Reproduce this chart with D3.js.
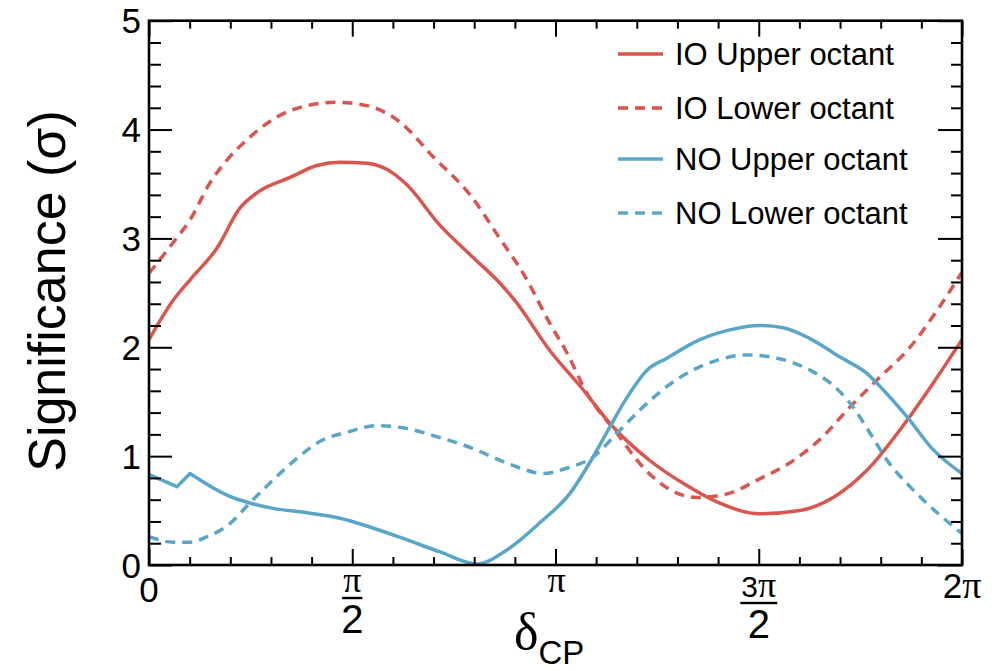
<!DOCTYPE html>
<html>
<head>
<meta charset="utf-8">
<script src="https://cdn.jsdelivr.net/npm/d3@7"></script>
<style>
  html, body { margin: 0; padding: 0; background: #fff; }
  svg { display: block; }
</style>
</head>
<body>
<svg id="chart" width="1000" height="671"></svg>
<script>
// ---- Data (x in units of pi, y = significance in sigma) ----
const ioUpperX = [0, 0.059, 0.101, 0.167, 0.224, 0.266, 0.347, 0.413, 0.470, 0.536, 0.600, 0.635, 0.716, 0.790, 0.863, 0.900, 0.986, 1.068, 1.134, 1.232, 1.314, 1.397, 1.503, 1.601, 1.683, 1.766, 1.865, 1.929, 2.0];
const ioUpperY = [2.07, 2.43, 2.62, 2.91, 3.28, 3.42, 3.56, 3.67, 3.70, 3.69, 3.60, 3.49, 3.12, 2.85, 2.59, 2.43, 1.97, 1.61, 1.30, 0.96, 0.75, 0.58, 0.47, 0.50, 0.62, 0.87, 1.33, 1.67, 2.07];

const ioLowerX = [0, 0.059, 0.101, 0.150, 0.192, 0.248, 0.322, 0.389, 0.462, 0.536, 0.617, 0.699, 0.790, 0.863, 0.925, 0.986, 1.028, 1.077, 1.151, 1.215, 1.299, 1.348, 1.429, 1.496, 1.577, 1.658, 1.724, 1.791, 1.872, 1.939, 2.0];
const ioLowerY = [2.68, 2.96, 3.17, 3.51, 3.72, 3.93, 4.13, 4.22, 4.25, 4.22, 4.07, 3.75, 3.40, 3.00, 2.65, 2.22, 1.95, 1.58, 1.21, 0.90, 0.66, 0.62, 0.66, 0.78, 0.94, 1.18, 1.45, 1.70, 2.00, 2.34, 2.69];

const noUpperX = [0, 0.069, 0.101, 0.157, 0.199, 0.248, 0.305, 0.389, 0.470, 0.551, 0.635, 0.716, 0.807, 0.881, 0.962, 1.036, 1.092, 1.134, 1.176, 1.225, 1.274, 1.355, 1.429, 1.503, 1.560, 1.626, 1.700, 1.766, 1.806, 1.865, 1.929, 2.0];
const noUpperY = [0.83, 0.72, 0.84, 0.71, 0.63, 0.57, 0.52, 0.48, 0.43, 0.34, 0.23, 0.12, 0.01, 0.14, 0.39, 0.66, 0.99, 1.27, 1.54, 1.79, 1.90, 2.07, 2.16, 2.20, 2.18, 2.08, 1.91, 1.76, 1.61, 1.36, 1.06, 0.84];

const noLowerX = [0, 0.059, 0.101, 0.143, 0.199, 0.248, 0.305, 0.364, 0.428, 0.487, 0.561, 0.625, 0.716, 0.797, 0.846, 0.913, 0.969, 1.036, 1.092, 1.151, 1.215, 1.274, 1.338, 1.397, 1.471, 1.545, 1.626, 1.683, 1.724, 1.774, 1.816, 1.872, 1.939, 2.0];
const noLowerY = [0.26, 0.21, 0.21, 0.26, 0.38, 0.57, 0.78, 0.98, 1.15, 1.22, 1.28, 1.26, 1.17, 1.07, 0.99, 0.89, 0.84, 0.90, 0.99, 1.21, 1.45, 1.64, 1.79, 1.88, 1.93, 1.90, 1.79, 1.65, 1.49, 1.21, 0.96, 0.72, 0.48, 0.29];

const seriesNames = ["IO Upper octant", "IO Lower octant", "NO Upper octant", "NO Lower octant"];
const yTickValues = [0, 1, 2, 3, 4, 5];
const yTickLabels = ["0", "1", "2", "3", "4", "5"];
const xMajorTicks = [0, 0.5, 1, 1.5, 2];

// ---- Layout ----
const RED = "#d9564f", BLUE = "#5aa6c9";
const svg = d3.select("#chart");
const L = 149, R = 962, T = 20.7, B = 565;
const x = d3.scaleLinear().domain([0, 2]).range([L, R]);
const y = d3.scaleLinear().domain([0, 5]).range([B, T]);

// kink: index where a sharp corner should be kept (linear before it)
const series = [
  { name: seriesNames[0], xs: ioUpperX, ys: ioUpperY, color: RED, dash: null, kink: 0 },
  { name: seriesNames[1], xs: ioLowerX, ys: ioLowerY, color: RED, dash: "10,7", kink: 0 },
  { name: seriesNames[2], xs: noUpperX, ys: noUpperY, color: BLUE, dash: null, kink: 2 },
  { name: seriesNames[3], xs: noLowerX, ys: noLowerY, color: BLUE, dash: "10,7", kink: 0 }
];

svg.append("defs").append("clipPath").attr("id", "clip")
  .append("rect").attr("x", L).attr("y", T).attr("width", R - L).attr("height", B - T);

const lineLin = d3.line().x(d => x(d[0])).y(d => y(d[1])).curve(d3.curveLinear);
const lineMono = d3.line().x(d => x(d[0])).y(d => y(d[1])).curve(d3.curveMonotoneX);
const gLines = svg.append("g").attr("clip-path", "url(#clip)");
series.forEach(s => {
  const pts = s.xs.map((v, i) => [v, s.ys[i]]);
  let d = "";
  if (s.kink > 0) {
    d = lineLin(pts.slice(0, s.kink + 1)) + lineMono(pts.slice(s.kink)).replace(/^M[^A-Za-z]*/, "");
  } else {
    d = lineMono(pts);
  }
  gLines.append("path")
    .attr("d", d)
    .attr("fill", "none")
    .attr("stroke", s.color)
    .attr("stroke-width", 3.5)
    .attr("stroke-dasharray", s.dash)
    .attr("stroke-linejoin", "round");
});

// ---- Axes (ROOT-style, ticks inside) ----
const xMinor = d3.range(0, 21).map(i => i / 10).filter(v => xMajorTicks.indexOf(v) < 0);
const yMinor = d3.range(0, 26).map(i => i / 5).filter(v => Math.abs(v - Math.round(v)) > 1e-9);

function tickAxis(axisFn, scale, values, size, transform) {
  const g = svg.append("g").attr("transform", transform)
    .call(axisFn(scale).tickValues(values).tickSize(size).tickFormat(""));
  g.select(".domain").remove();
  g.selectAll(".tick line").attr("stroke", "#000").attr("stroke-width", 2);
  return g;
}
tickAxis(d3.axisTop, x, xMajorTicks, 16, `translate(0,${B})`);
tickAxis(d3.axisTop, x, xMinor, 8, `translate(0,${B})`);
tickAxis(d3.axisBottom, x, xMajorTicks, 16, `translate(0,${T})`);
tickAxis(d3.axisBottom, x, xMinor, 8, `translate(0,${T})`);
tickAxis(d3.axisRight, y, yTickValues, 23, `translate(${L},0)`);
tickAxis(d3.axisRight, y, yMinor, 12, `translate(${L},0)`);
tickAxis(d3.axisLeft, y, yTickValues, 24, `translate(${R},0)`);
tickAxis(d3.axisLeft, y, yMinor, 11, `translate(${R},0)`);

svg.append("rect").attr("x", L).attr("y", T).attr("width", R - L).attr("height", B - T)
  .attr("fill", "none").attr("stroke", "#000").attr("stroke-width", 2.6);

const SANS = "'Liberation Sans', Arial, Helvetica, sans-serif";
const SERIF = "'Liberation Serif', 'Times New Roman', serif";

// y tick labels
svg.append("g").selectAll("text").data(yTickValues).join("text")
  .attr("x", 141).attr("y", d => y(d) + 12.5)
  .attr("text-anchor", "end")
  .attr("font-family", SANS).attr("font-size", 35)
  .text((d, i) => yTickLabels[i]);

// x tick labels
const xl = svg.append("g").attr("font-family", SANS).attr("fill", "#000");
xl.append("text").attr("x", x(0)).attr("y", 602).attr("text-anchor", "middle")
  .attr("font-size", 35).text("0");
xl.append("text").attr("x", x(1) + 1).attr("y", 592).attr("text-anchor", "middle")
  .attr("font-family", SERIF).attr("font-size", 36).text("π");
const two = xl.append("text").attr("x", x(2)).attr("y", 598).attr("text-anchor", "middle").attr("font-size", 35);
two.append("tspan").text("2");
two.append("tspan").attr("font-family", SERIF).attr("font-size", 38).text("π");

function frac(cx, numParts, barY) {
  const t = xl.append("text").attr("x", cx).attr("y", barY - 6).attr("text-anchor", "middle");
  numParts.forEach(p => t.append("tspan").attr("font-family", p.serif ? SERIF : SANS)
    .attr("font-size", p.size).text(p.t));
  const bw = t.node().getComputedTextLength() + 2;
  xl.append("rect").attr("x", cx - bw / 2).attr("y", barY - 1.2).attr("width", bw).attr("height", 2.4).attr("fill", "#000");
  xl.append("text").attr("x", cx).attr("y", barY + 35).attr("text-anchor", "middle")
    .attr("font-size", 40).text("2");
}
frac(x(0.5), [{ t: "π", serif: true, size: 36 }], 598);
frac(x(1.5), [{ t: "3", size: 30 }, { t: "π", serif: true, size: 36 }], 603);

// axis titles
const xt = svg.append("text").attr("x", 514).attr("y", 649).attr("font-family", SANS);
xt.append("tspan").attr("font-family", SERIF).attr("font-size", 52).text("δ");
xt.append("tspan").attr("font-size", 33).attr("dy", 15).text("CP");

svg.append("text")
  .attr("transform", "translate(65,291) rotate(-90)")
  .attr("text-anchor", "middle")
  .attr("font-family", SANS).attr("font-size", 52)
  .text("Significance (σ)");

// ---- Legend ----
const legendRowY = [54, 108, 159, 213];
const lg = svg.append("g");
series.forEach((s, i) => {
  const cy = legendRowY[i];
  lg.append("line").attr("x1", 618).attr("x2", 663).attr("y1", cy).attr("y2", cy)
    .attr("stroke", s.color).attr("stroke-width", 3.5).attr("stroke-dasharray", s.dash);
  lg.append("text").attr("x", 675).attr("y", cy + 11)
    .attr("font-family", SANS).attr("font-size", 31).text(s.name);
});
</script>
</body>
</html>
